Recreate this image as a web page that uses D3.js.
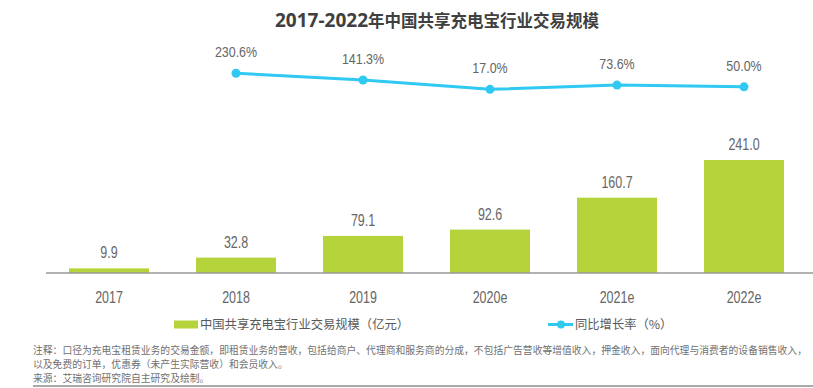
<!DOCTYPE html>
<html><head><meta charset="utf-8">
<script src="https://cdn.jsdelivr.net/npm/d3@7"></script>
<style>
body{margin:0;background:#fff;}
svg{display:block;}
</style></head>
<body>
<svg id="chart" width="813" height="388"></svg>
<script>
const categories = ["2017","2018","2019","2020e","2021e","2022e"];
const marketSize = [9.9,32.8,79.1,92.6,160.7,241.0];
const growthYears = ["2018","2019","2020e","2021e","2022e"];
const growthRate = [230.6,141.3,17.0,73.6,50.0];
const titleYears = "2017-2022";
const titleRest = "年中国共享充电宝行业交易规模";
const legendBar = "中国共享充电宝行业交易规模（亿元）";
const legendLine = "同比增长率（%）";
const notes = [
  "注释：口径为充电宝租赁业务的交易金额，即租赁业务的营收，包括给商户、代理商和服务商的分成，不包括广告营收等增值收入，押金收入，面向代理与消费者的设备销售收入，",
  "以及免费的订单，优惠券（未产生实际营收）和会员收入。",
  "来源：艾瑞咨询研究院自主研究及绘制。"
];

const svg = d3.select("#chart");
const numFont = "'Liberation Sans',Arial,sans-serif";
const cjkFont = "'Noto Sans CJK SC','Noto Sans',sans-serif";
const green = "#b5d43b", blue = "#2fc9f2", numColor = "#666666";
const squeeze = 0.78;

const x = d3.scaleBand().domain(categories).range([45.5, 807.5]).paddingInner(0.37).paddingOuter(0.185);
const yBar = d3.scaleLinear().domain([0, 250]).range([273, 155.8]);
const yLine = d3.scaleLinear().domain([0, 250]).range([90.6, 71.85]);
const cx = c => x(c) + x.bandwidth()/2;

// title
const t = svg.append("text").attr("x", 275).attr("y", 27).attr("font-weight", "bold").attr("fill", "#404040");
t.append("tspan").attr("font-family", "'Open Sans',sans-serif").attr("font-size", 19).text(titleYears);
t.append("tspan").attr("font-family", cjkFont).attr("font-size", 16.5).text(titleRest);

// bars
svg.selectAll("rect.bar").data(marketSize).join("rect").attr("class","bar")
  .attr("x", (d,i) => x(categories[i])).attr("width", x.bandwidth())
  .attr("y", d => yBar(d)).attr("height", d => yBar(0) - yBar(d))
  .attr("fill", green);

svg.selectAll("text.blab").data(marketSize).join("text").attr("class","blab")
  .attr("transform", (d,i) => `translate(${cx(categories[i])},${yBar(d) - 10}) scale(${squeeze},1)`)
  .attr("text-anchor","middle").attr("font-family", numFont).attr("font-size", 16)
  .attr("fill", numColor).text(d => d.toFixed(1));

// axis
const xAxis = d3.axisBottom(x).tickSize(0).tickPadding(0);
const gx = svg.append("g").attr("transform", `translate(0,${yBar(0)})`).call(xAxis);
gx.select(".domain").remove();
gx.selectAll("text").attr("dy", null).attr("y", 30).attr("transform", `scale(${squeeze},1)`)
  .attr("font-family", numFont).attr("font-size", 16).attr("fill", numColor);
svg.append("line").attr("x1", 46).attr("x2", 813).attr("y1", yBar(0)).attr("y2", yBar(0))
  .attr("stroke", "#999").attr("stroke-width", 1.5);

// line
const line = d3.line().x((d,i) => cx(growthYears[i])).y(d => yLine(d));
svg.append("path").datum(growthRate).attr("d", line)
  .attr("fill","none").attr("stroke", blue).attr("stroke-width", 3);
svg.selectAll("circle.pt").data(growthRate).join("circle").attr("class","pt")
  .attr("cx", (d,i) => cx(growthYears[i])).attr("cy", d => yLine(d)).attr("r", 4.5)
  .attr("fill", blue);
svg.selectAll("text.llab").data(growthRate).join("text").attr("class","llab")
  .attr("transform", (d,i) => `translate(${cx(growthYears[i])},${yLine(d) - 16}) scale(0.83,1)`)
  .attr("text-anchor","middle").attr("font-family", numFont).attr("font-size", 15)
  .attr("fill", numColor).text(d => d.toFixed(1) + "%");

// legend
svg.append("rect").attr("x", 174).attr("y", 320.5).attr("width", 24).attr("height", 8).attr("fill", green);
svg.append("text").attr("x", 200).attr("y", 329).attr("font-family", cjkFont).attr("font-size", 12.3)
  .attr("fill", "#595959").text(legendBar);
svg.append("line").attr("x1", 548).attr("x2", 573).attr("y1", 324.5).attr("y2", 324.5)
  .attr("stroke", blue).attr("stroke-width", 3);
svg.append("circle").attr("cx", 561).attr("cy", 324.5).attr("r", 4).attr("fill", blue);
svg.append("text").attr("x", 575).attr("y", 329).attr("font-family", cjkFont).attr("font-size", 12.3)
  .attr("fill", "#595959").text(legendLine);

// notes
svg.selectAll("text.note").data(notes).join("text").attr("class","note")
  .attr("x", 33).attr("y", (d,i) => 354 + i*14)
  .attr("font-family", cjkFont).attr("font-size", 9.8).attr("fill", "#707070").text(d => d);
svg.append("line").attr("x1", 33).attr("x2", 813).attr("y1", 386).attr("y2", 386)
  .attr("stroke", "#aaa").attr("stroke-width", 2);
</script>
</body></html>
